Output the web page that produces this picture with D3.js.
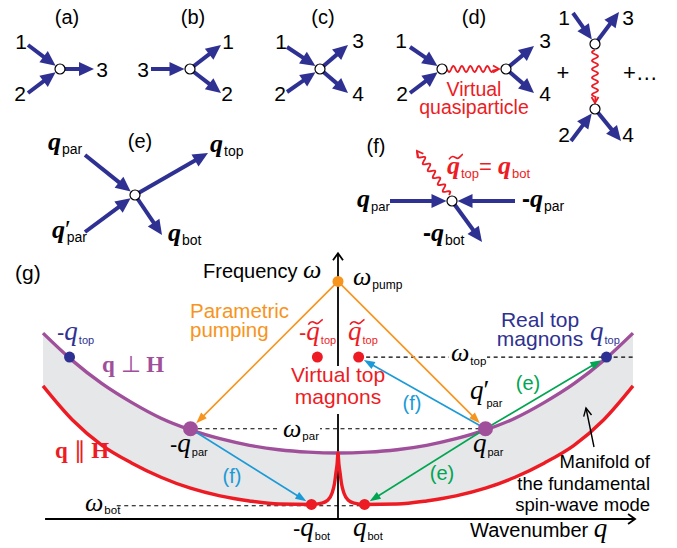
<!DOCTYPE html>
<html><head><meta charset="utf-8">
<script src="https://cdn.jsdelivr.net/npm/d3@7"></script>
<style>
body{margin:0;background:#fff}
svg{display:block}
text{font-family:Arial,"Liberation Sans",sans-serif}
</style></head><body>
<svg id="c" width="677" height="548"></svg>
<script>
// ---------------- data (relative units) ----------------
// dispersion branch q ⊥ H (right half, mirrored for -q)
const purpleQ = [0, 0.1, 0.2, 0.3, 0.4, 0.5, 0.6, 0.7, 0.8, 0.9, 1.0];
const purpleW = [3.0, 3.04, 3.15, 3.35, 3.65, 4.05, 4.58, 5.3, 6.15, 7.2, 8.45];
// dispersion branch q ∥ H (right half, mirrored for -q)
const redQ = [0, 0.003, 0.007, 0.012, 0.02, 0.035, 0.055, 0.09, 0.2, 0.3, 0.4, 0.5, 0.6, 0.7, 0.8, 0.9, 1.0];
const redW = [3.0, 2.5, 2.1, 1.6, 1.18, 0.85, 0.72, 0.66, 0.68, 0.82, 1.05, 1.4, 1.9, 2.55, 3.35, 4.5, 6.05];
// characteristic frequencies
const levelNames = ["pump", "top", "par", "bot"];
const levelW = [10.8, 7.36, 4.1, 0.6];
// characteristic wavenumbers
const qNames = ["top", "par", "bot", "tildeTop"];
const qVals = [0.91, 0.5, 0.09, 0.07];
const botW = 0.66;
// texts
const panelLabels = ["(a)", "(b)", "(c)", "(d)", "(e)", "(f)", "(g)"];
const manifoldLines = ["Manifold of", "the fundamental", "spin-wave mode"];

const W = Object.fromEntries(levelNames.map((n, i) => [n, levelW[i]]));
const Q = Object.fromEntries(qNames.map((n, i) => [n, qVals[i]]));

// ---------------- styles ----------------
const NAVY = "#2e3192", RED = "#ed1c24", ORANGE = "#f7941d", PURPLE = "#a04f9b",
      CYAN = "#1b9ad7", GREEN = "#00a651", GRAY = "#e6e7e8";
const SERIF = "'Liberation Serif','Times New Roman',serif";
const SANS = "Arial,'Liberation Sans',sans-serif";

const svg = d3.select("#c");

// ---------------- helpers ----------------
function arrow(g, x1, y1, x2, y2, o) {
  const dx = x2 - x1, dy = y2 - y1, L = Math.hypot(dx, dy), ux = dx / L, uy = dy / L;
  const bx = x2 - ux * o.hl, by = y2 - uy * o.hl;
  g.append("line").attr("x1", x1).attr("y1", y1).attr("x2", bx + ux).attr("y2", by + uy)
    .attr("stroke", o.color).attr("stroke-width", o.w);
  g.append("path").attr("d", `M${x2},${y2}L${bx - uy * o.hw},${by + ux * o.hw}L${bx + uy * o.hw},${by - ux * o.hw}Z`)
    .attr("fill", o.color);
}
function chevron(g, x, y, ux, uy, len, half, color, w) {
  const bx = x - ux * len, by = y - uy * len;
  g.append("path").attr("d", `M${bx - uy * half},${by + ux * half}L${x},${y}L${bx + uy * half},${by - ux * half}`)
    .attr("fill", "none").attr("stroke", color).attr("stroke-width", w).attr("stroke-linejoin", "miter");
}
function wavy(g, x1, y1, x2, y2, color, amp, wl) {
  const dx = x2 - x1, dy = y2 - y1, L = Math.hypot(dx, dy), ux = dx / L, uy = dy / L, px = -uy, py = ux;
  const waveLen = L - 6, pts = [];
  const n = Math.ceil(waveLen * 2);
  for (let i = 0; i <= n; i++) {
    const t = i / n * waveLen;
    const off = amp * Math.sin(2 * Math.PI * t / wl);
    pts.push([x1 + ux * t + px * off, y1 + uy * t + py * off]);
  }
  pts.push([x2, y2]);
  g.append("path").attr("d", d3.line()(pts)).attr("fill", "none").attr("stroke", color).attr("stroke-width", 1.8);
  chevron(g, x2, y2, ux, uy, 6, 3.5, color, 1.8);
}
const FAT = { color: NAVY, w: 4, hl: 15, hw: 7 };
function vIn(g, sx, sy, vx, vy) {
  const dx = vx - sx, dy = vy - sy, L = Math.hypot(dx, dy);
  arrow(g, sx, sy, vx - dx / L * 5.5, vy - dy / L * 5.5, FAT);
}
function vOut(g, vx, vy, tx, ty) { arrow(g, vx, vy, tx, ty, FAT); }
function vertex(g, x, y) {
  g.append("circle").attr("cx", x).attr("cy", y).attr("r", 5).attr("fill", "#fff")
    .attr("stroke", "#000").attr("stroke-width", 1.2);
}
function txt(g, x, y, s, o = {}) {
  const t = g.append("text").attr("x", x).attr("y", y).text(s)
    .attr("font-size", o.size || 20).attr("fill", o.color || "#000")
    .attr("text-anchor", o.anchor || "start");
  if (o.family) t.style("font-family", o.family);
  if (o.italic) t.attr("font-style", "italic");
  if (o.bold) t.attr("font-weight", "bold");
  return t;
}
// label like  -q_sub  with optional prime / tilde
function qlab(g, x, y, pre, sub, o = {}) {
  const color = o.color || "#000";
  const t = g.append("text").attr("x", x).attr("y", y).attr("fill", color);
  if (pre) t.append("tspan").text(pre).attr("font-size", o.preSize || 22).style("font-family", SANS)
    .attr("font-weight", o.bold ? "bold" : "normal");
  t.append("tspan").text(o.sym || "q").style("font-family", SERIF).attr("font-style", "italic")
    .attr("font-weight", o.bold ? "bold" : "normal").attr("font-size", o.qSize || 27);
  if (o.prime) t.append("tspan").text("′").style("font-family", SERIF).attr("font-size", o.qSize || 27);
  t.append("tspan").text(sub).attr("font-size", o.subSize || 11).attr("dy", o.subDy || 4).attr("dx", o.subDx || 1)
    .style("font-family", SANS).attr("font-weight", "normal");
  if (o.tilde) {
    const ext = t.node().getExtentOfChar(pre ? pre.length : 0);
    const a = ext.x + 2, w = ext.width + 1, yy = ext.y + ext.height * 0.22;
    g.append("path")
      .attr("d", `M${a},${yy + 2}C${a + w * 0.25},${yy - 4} ${a + w * 0.45},${yy + 1} ${a + w * 0.6},${yy + 1}S${a + w * 0.9},${yy - 3} ${a + w},${yy - 3}`)
      .attr("fill", "none").attr("stroke", color).attr("stroke-width", 1.6);
  }
  return t;
}

// ---------------- top panels ----------------
const topG = svg.append("g");
// (a)
vIn(topG, 28, 45, 60, 69); vIn(topG, 28, 93, 60, 69); vOut(topG, 60, 69, 94, 69); vertex(topG, 60, 69);
txt(topG, 67, 24, panelLabels[0], { anchor: "middle" });
txt(topG, 21, 49, "1", { anchor: "middle", size: 21 }); txt(topG, 20, 101, "2", { anchor: "middle", size: 21 }); txt(topG, 102, 77, "3", { anchor: "middle", size: 21 });
// (b)
vIn(topG, 151, 69, 190, 69); vOut(topG, 190, 69, 221, 45); vOut(topG, 190, 69, 221, 93); vertex(topG, 190, 69);
txt(topG, 193, 24, panelLabels[1], { anchor: "middle" });
txt(topG, 143, 77, "3", { anchor: "middle", size: 21 }); txt(topG, 228, 49, "1", { anchor: "middle", size: 21 }); txt(topG, 227, 101, "2", { anchor: "middle", size: 21 });
// (c)
vIn(topG, 287, 47, 320, 69); vIn(topG, 287, 92, 320, 69); vOut(topG, 320, 69, 348, 45); vOut(topG, 320, 69, 348, 93); vertex(topG, 320, 69);
txt(topG, 323, 24, panelLabels[2], { anchor: "middle" });
txt(topG, 281, 49, "1", { anchor: "middle", size: 21 }); txt(topG, 280, 101, "2", { anchor: "middle", size: 21 });
txt(topG, 358, 48, "3", { anchor: "middle", size: 21 }); txt(topG, 358, 101, "4", { anchor: "middle", size: 21 });
// (d)
vIn(topG, 410, 47, 442, 69); vIn(topG, 410, 93, 442, 69);
wavy(topG, 447, 69, 499, 69, RED, 3, 8.5);
vOut(topG, 506, 69, 534, 46); vOut(topG, 506, 69, 534, 93);
vertex(topG, 442, 69); vertex(topG, 506, 69);
txt(topG, 474, 24, panelLabels[3], { anchor: "middle" });
txt(topG, 401, 48, "1", { anchor: "middle", size: 21 }); txt(topG, 402, 101, "2", { anchor: "middle", size: 21 });
txt(topG, 545, 48, "3", { anchor: "middle", size: 21 }); txt(topG, 545, 101, "4", { anchor: "middle", size: 21 });
txt(topG, 474, 96, "Virtual", { anchor: "middle", color: RED, size: 19.5 });
txt(topG, 474, 114, "quasiparticle", { anchor: "middle", color: RED, size: 19.5 });
txt(topG, 563, 80, "+", { anchor: "middle", size: 22 });
vIn(topG, 573, 13, 595, 44); vOut(topG, 595, 44, 619, 12);
wavy(topG, 595, 50, 595, 103, RED, 3, 8.5);
vIn(topG, 571, 141, 595, 109); vOut(topG, 595, 109, 621, 141);
vertex(topG, 595, 44); vertex(topG, 595, 109);
txt(topG, 564, 25, "1", { anchor: "middle", size: 21 }); txt(topG, 628, 25, "3", { anchor: "middle", size: 21 });
txt(topG, 564, 142, "2", { anchor: "middle", size: 21 }); txt(topG, 628, 142, "4", { anchor: "middle", size: 21 });
txt(topG, 623, 80, "+…", { size: 22 });
// (e)
vIn(topG, 85, 155, 135, 195); vIn(topG, 85, 232, 135, 195);
vOut(topG, 135, 195, 208, 153); vOut(topG, 135, 195, 162, 235); vertex(topG, 135, 195);
txt(topG, 140, 148, panelLabels[4], { anchor: "middle" });
const boldQ = { bold: true, qSize: 26, subSize: 14, subDy: 4 };
qlab(topG, 48, 150, "", "par", boldQ);
qlab(topG, 52, 238, "", "par", Object.assign({}, boldQ, { prime: true, subDx: -4 }));
qlab(topG, 210, 152, "", "top", boldQ);
qlab(topG, 168, 241, "", "bot", boldQ);
// (f)
vIn(topG, 390, 201, 452, 201); vIn(topG, 515, 201, 452, 201); vOut(topG, 452, 201, 482, 242);
wavy(topG, 449, 195, 417, 151, RED, 3, 8.5);
vertex(topG, 452, 201);
txt(topG, 376, 153, panelLabels[5], { anchor: "middle" });
qlab(topG, 357, 207, "", "par", Object.assign({}, boldQ, { subSize: 13 }));
qlab(topG, 522, 207, "-", "par", Object.assign({}, boldQ, { preSize: 24 }));
qlab(topG, 423, 241, "-", "bot", Object.assign({}, boldQ, { preSize: 24 }));
const eq = qlab(topG, 447, 174, "", "top", Object.assign({}, boldQ, { color: RED, tilde: true, subSize: 13 }));
eq.append("tspan").text("= ").attr("dy", -4).attr("font-size", 22).style("font-family", SANS);
eq.append("tspan").text("q").style("font-family", SERIF).attr("font-style", "italic").attr("font-weight", "bold").attr("font-size", 26);
eq.append("tspan").text("bot").attr("font-size", 13).attr("dy", 4).attr("dx", 1);

// ---------------- panel (g) ----------------
const g = svg.append("g");
const x = d3.scaleLinear().domain([-1, 1]).range([43, 633]);
const y = d3.scaleLinear().domain([0, 12]).range([519, 255]);

const mirror = (qs, ws) => qs.slice(1).map((q, i) => [-q, ws[i + 1]]).reverse()
  .concat(qs.map((q, i) => [q, ws[i]]));
const purple = mirror(purpleQ, purpleW);
const red = mirror(redQ, redW);

const area = d3.area().x(d => x(d[0])).y0(y(0)).y1(d => y(d[1])).curve(d3.curveMonotoneX);
const line = d3.line().x(d => x(d[0])).y(d => y(d[1])).curve(d3.curveMonotoneX);

g.append("path").attr("d", area(purple)).attr("fill", GRAY);
g.append("path").attr("d", area(red)).attr("fill", "#fff");

// dashed guide lines
const dash = (q1, q2, w) => g.append("line").attr("x1", x(q1)).attr("x2", x(q2)).attr("y1", y(w)).attr("y2", y(w))
  .attr("stroke", "#000").attr("stroke-width", 1.1).attr("stroke-dasharray", "4,3.5");
dash(Q.tildeTop, 1, W.top);
dash(-Q.par, Q.par, W.par);
dash(-0.75, Q.bot, W.bot);

// axes
g.append("line").attr("x1", x(-0.993)).attr("x2", x(1.005)).attr("y1", y(0)).attr("y2", y(0)).attr("stroke", "#000").attr("stroke-width", 1.8);
chevron(g, x(1.007), y(0), 1, 0, 7, 5, "#000", 1.8);
g.append("line").attr("x1", x(0)).attr("x2", x(0)).attr("y1", y(0)).attr("y2", y(12.05)).attr("stroke", "#000").attr("stroke-width", 1.8);
chevron(g, x(0), y(12.08), 0, -1, 7, 5, "#000", 1.8);

// dispersion curves
g.append("path").attr("d", line(purple)).attr("fill", "none").attr("stroke", PURPLE).attr("stroke-width", 3.4);
g.append("path").attr("d", line(red)).attr("fill", "none").attr("stroke", RED).attr("stroke-width", 3.4);

// thin arrows
const thin = c => ({ color: c, w: 1.6, hl: 11, hw: 4 });
function dotArrow(q1, w1, q2, w2, c, r) {
  const x1 = x(q1), y1 = y(w1), x2 = x(q2), y2 = y(w2);
  const L = Math.hypot(x2 - x1, y2 - y1);
  arrow(g, x1, y1, x2 - (x2 - x1) / L * r, y2 - (y2 - y1) / L * r, thin(c));
}
dotArrow(0, W.pump, -Q.par, W.par, ORANGE, 8);
dotArrow(0, W.pump, Q.par, W.par, ORANGE, 8);
dotArrow(Q.par, W.par, Q.tildeTop, W.top, CYAN, 6);
dotArrow(-Q.par, W.par, -Q.bot, botW, CYAN, 6);
dotArrow(Q.par, W.par, Q.top, W.top, GREEN, 6);
dotArrow(Q.par, W.par, Q.bot, botW, GREEN, 6);

// dots
const dot = (q, w, r, c) => g.append("circle").attr("cx", x(q)).attr("cy", y(w)).attr("r", r).attr("fill", c);
dot(0, W.pump, 5.5, ORANGE);
dot(-Q.par, W.par, 7.5, PURPLE); dot(Q.par, W.par, 7.5, PURPLE);
dot(-Q.top, W.top, 5.5, NAVY); dot(Q.top, W.top, 5.5, NAVY);
dot(-Q.tildeTop, W.top, 5.5, RED); dot(Q.tildeTop, W.top, 5.5, RED);
dot(-Q.bot, botW, 5.5, RED); dot(Q.bot, botW, 5.5, RED);

// manifold pointer
(function () {
  const x1 = 594, y1 = 447, x2 = 586, y2 = 408, L = Math.hypot(x2 - x1, y2 - y1);
  g.append("line").attr("x1", x1).attr("y1", y1).attr("x2", x2).attr("y2", y2).attr("stroke", "#000").attr("stroke-width", 1.4);
  chevron(g, x2, y2, (x2 - x1) / L, (y2 - y1) / L, 8, 4, "#000", 1.4);
})();

// white patch behind the central label
g.append("rect").attr("x", x(0) - 4).attr("y", 366).attr("width", 8).attr("height", 48).attr("fill", "#fff");

// labels
txt(g, 15, 280, panelLabels[6], { size: 21 });
const fq = txt(g, 203, 278, "Frequency ", { size: 20 });
fq.append("tspan").text("ω").style("font-family", SERIF).attr("font-style", "italic").attr("font-size", 26);
qlab(g, 353, 285, "", "pump", { sym: "ω", qSize: 26, subSize: 12 });
// ω_top label with white background
g.append("rect").attr("x", 449).attr("y", 348).attr("width", 38).attr("height", 18).attr("fill", "#fff");
qlab(g, 451, 361, "", "top", { sym: "ω", qSize: 26, subSize: 11.5, subDy: 4 });
g.append("rect").attr("x", 280).attr("y", 420).attr("width", 40).attr("height", 20).attr("fill", "#fff");
qlab(g, 283, 437, "", "par", { sym: "ω", qSize: 26, subSize: 11.5, subDy: 3 });
qlab(g, 85, 511, "", "bot", { sym: "ω", qSize: 26, subSize: 11.5, subDy: 3 });

txt(g, 190, 318, "Parametric", { color: ORANGE, size: 20.5 });
txt(g, 190, 337, "pumping", { color: ORANGE, size: 20.5 });
txt(g, 540, 327, "Real top", { color: NAVY, size: 21, anchor: "middle" });
txt(g, 540, 346, "magnons", { color: NAVY, size: 21, anchor: "middle" });
txt(g, 338, 382, "Virtual top", { color: RED, size: 21, anchor: "middle" });
txt(g, 338, 404, "magnons", { color: RED, size: 21, anchor: "middle" });

qlab(g, 57, 340, "-", "top", { color: NAVY });
qlab(g, 590, 340, "", "top", { color: NAVY });
qlab(g, 299, 340, "-", "top", { color: RED, tilde: true, subSize: 11 });
qlab(g, 348, 340, "", "top", { color: RED, tilde: true, subSize: 11 });
qlab(g, 170, 452, "-", "par", {});
qlab(g, 473, 452, "", "par", {});
qlab(g, 470, 399, "", "par", { prime: true, subDx: -3, subDy: 8 });
qlab(g, 293, 536, "-", "bot", {});
qlab(g, 353, 536, "", "bot", {});

const ql = txt(g, 102, 372, "q", { family: SERIF, bold: true, size: 23, color: PURPLE });
ql.append("tspan").text(" ⊥ ").attr("font-weight", "normal");
ql.append("tspan").text("H");
const qp = txt(g, 55, 458, "q", { family: SERIF, bold: true, size: 23, color: RED });
qp.append("tspan").text(" ∥ ").attr("font-weight", "normal");
qp.append("tspan").text("H");

txt(g, 412, 410, "(f)", { color: CYAN, size: 20, anchor: "middle" });
txt(g, 232, 483, "(f)", { color: CYAN, size: 20, anchor: "middle" });
txt(g, 528, 390, "(e)", { color: GREEN, size: 20, anchor: "middle" });
txt(g, 442, 480, "(e)", { color: GREEN, size: 20, anchor: "middle" });

manifoldLines.forEach((s, i) => txt(g, 650, 468 + i * 21.5, s, { size: 18.5, anchor: "end" }));
const wq = txt(g, 470, 537, "Wavenumber ", { size: 20 });
wq.append("tspan").text("q").style("font-family", SERIF).attr("font-style", "italic").attr("font-size", 27);
</script>
</body></html>
